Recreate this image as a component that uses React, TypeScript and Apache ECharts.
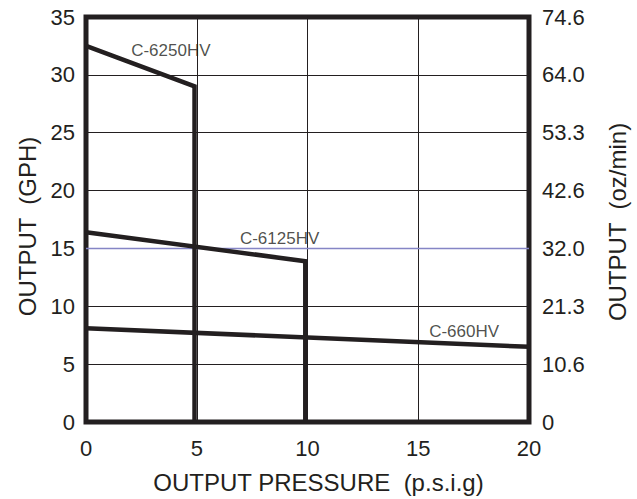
import React, { useEffect, useRef } from "react";
import * as echarts from "echarts";

const xTicks = [0, 5, 10, 15, 20];
const gphTicks = [0, 5, 10, 15, 20, 25, 30, 35];
const ozLabels = ["0", "10.6", "21.3", "32.0", "42.6", "53.3", "64.0", "74.6"];

const c6250X = [0, 4.9, 4.9];
const c6250Y = [32.5, 29.0, 0];
const c6125X = [0, 9.9, 9.9];
const c6125Y = [16.4, 13.9, 0];
const c660X = [0, 20];
const c660Y = [8.1, 6.5];

const refX = [0, 20];
const refY = [15, 15];

const labelNames = ["C-6250HV", "C-6125HV", "C-660HV"];
const labelX = [3.83, 8.74, 17.07];
const labelY = [32.1, 15.9, 7.8];

const INK = "#231f20";
const FONT = "Liberation Sans, Arial, sans-serif";

function pairs(xs: number[], ys: number[]) {
  return xs.map((x, i) => [x, ys[i]]);
}

export default function App() {
  const ref = useRef<HTMLDivElement>(null);
  useEffect(() => {
    if (!ref.current) return;
    const chart = echarts.init(ref.current, null, { renderer: "svg" });
    const lineStyle = { color: INK, width: 4.5, cap: "butt" as const, join: "miter" as const };
    chart.setOption({
      animation: false,
      backgroundColor: "#ffffff",
      textStyle: { fontFamily: FONT },
      grid: {
        left: 86,
        right: 106,
        top: 17,
        bottom: 77,
        show: true,
        borderColor: INK,
        borderWidth: 5,
      },
      xAxis: {
        type: "value",
        min: xTicks[0],
        max: xTicks[xTicks.length - 1],
        interval: 5,
        name: "OUTPUT PRESSURE  (p.s.i.g)",
        nameLocation: "middle",
        nameGap: 48,
        nameTextStyle: { fontSize: 24, color: INK, fontFamily: FONT, padding: [0, 0, 0, 22] },
        axisLine: { show: false },
        axisTick: { show: false },
        axisLabel: { fontSize: 22, color: INK, margin: 15, fontFamily: FONT },
        splitLine: { show: true, lineStyle: { color: INK, width: 1 } },
      },
      yAxis: [
        {
          type: "value",
          min: gphTicks[0],
          max: gphTicks[gphTicks.length - 1],
          interval: 5,
          name: "OUTPUT  (GPH)",
          nameLocation: "middle",
          nameGap: 47,
          nameTextStyle: { fontSize: 24, color: INK, fontFamily: FONT, padding: [0, 14, 0, 0] },
          axisLine: { show: false },
          axisTick: { show: false },
          axisLabel: { fontSize: 22, color: INK, margin: 11, fontFamily: FONT },
          splitLine: { show: true, lineStyle: { color: INK, width: 1 } },
        },
        {
          type: "value",
          position: "right",
          min: gphTicks[0],
          max: gphTicks[gphTicks.length - 1],
          interval: 5,
          name: "OUTPUT  (oz/min)",
          nameLocation: "middle",
          nameGap: 76,
          nameTextStyle: { fontSize: 24, color: INK, fontFamily: FONT, padding: [0, 5, 0, 0] },
          axisLine: { show: false },
          axisTick: { show: false },
          axisLabel: {
            fontSize: 22,
            color: INK,
            margin: 13,
            fontFamily: FONT,
            formatter: (v: number) => ozLabels[Math.round(v / 5)] ?? "",
          },
          splitLine: { show: false },
        },
      ],
      series: [
        {
          type: "line",
          name: "ref15",
          data: pairs(refX, refY),
          symbol: "none",
          lineStyle: { color: "#8585c5", width: 1.5 },
          z: 1,
        },
        {
          type: "line",
          name: labelNames[0],
          data: pairs(c6250X, c6250Y),
          symbol: "none",
          lineStyle,
          z: 3,
        },
        {
          type: "line",
          name: labelNames[1],
          data: pairs(c6125X, c6125Y),
          symbol: "none",
          lineStyle,
          z: 3,
        },
        {
          type: "line",
          name: labelNames[2],
          data: pairs(c660X, c660Y),
          symbol: "none",
          lineStyle,
          z: 3,
        },
        {
          type: "scatter",
          name: "labels",
          symbolSize: 0,
          data: labelNames.map((n, i) => ({ value: [labelX[i], labelY[i]], name: n })),
          label: {
            show: true,
            position: "inside",
            formatter: (p: any) => p.name,
            fontSize: 17,
            color: INK,
            fontFamily: FONT,
          },
          z: 4,
        },
      ],
    });
    return () => chart.dispose();
  }, []);
  return (
    <div
      ref={ref}
      style={{ position: "fixed", left: 0, top: 0, width: 637, height: 499 }}
    />
  );
}
